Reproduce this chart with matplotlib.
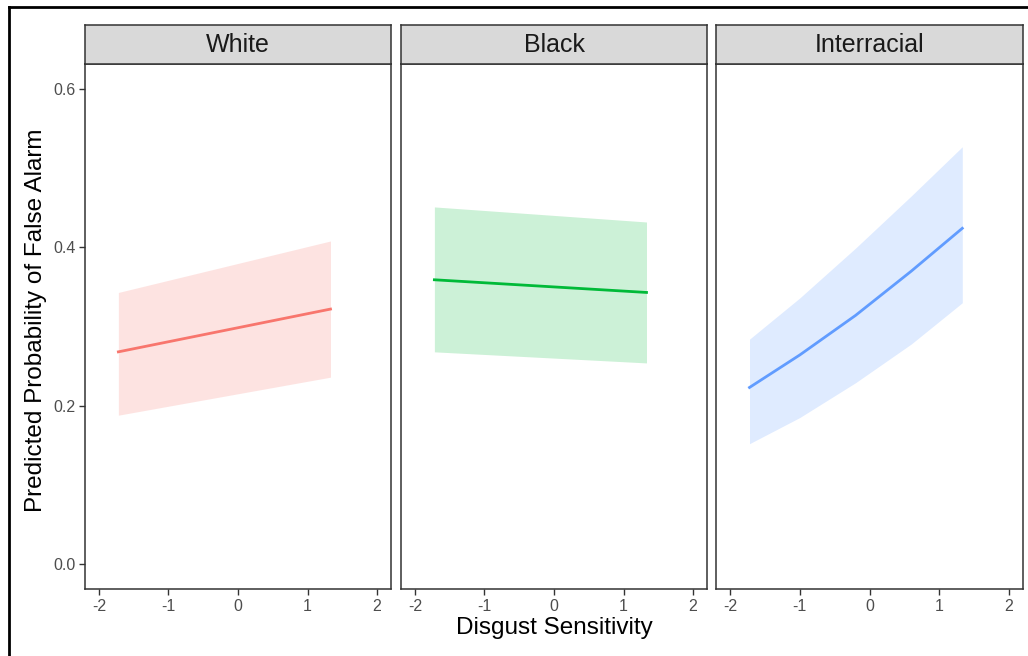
import matplotlib
matplotlib.use("Agg")
import matplotlib.pyplot as plt
from matplotlib.lines import Line2D

plt.rcParams['font.family'] = ['Liberation Sans', 'DejaVu Sans']

# ---- data ----
panels = ["White", "Black", "Interracial"]
colors = ["#F8766D", "#00BA38", "#619CFF"]

white_x = [-1.72, 1.33]
white_fit = [0.268, 0.322]
white_lo = [0.188, 0.236]
white_hi = [0.343, 0.408]

black_x = [-1.72, 1.33]
black_fit = [0.359, 0.343]
black_lo = [0.268, 0.254]
black_hi = [0.451, 0.432]

inter_x = [-1.72, -1.0, -0.2, 0.6, 1.33]
inter_fit = [0.223, 0.264, 0.314, 0.370, 0.424]
inter_lo = [0.152, 0.185, 0.229, 0.278, 0.330]
inter_hi = [0.284, 0.336, 0.399, 0.465, 0.527]

series = [
    (white_x, white_fit, white_lo, white_hi),
    (black_x, black_fit, black_lo, black_hi),
    (inter_x, inter_fit, inter_lo, inter_hi),
]

x_ticks = [-2, -1, 0, 1, 2]
x_ticklabels = ["-2", "-1", "0", "1", "2"]
y_ticks = [0.0, 0.2, 0.4, 0.6]
y_ticklabels = ["0.0", "0.2", "0.4", "0.6"]

W, H = 1028, 656
fig = plt.figure(figsize=(W / 100, H / 100), dpi=100)

lefts = [85, 401, 716]
widths = [306, 306, 307]
top_px, bot_px, strip_top = 64, 589, 25
dark = "#333333"

for i, (name, col, (xs, fit, lo, hi)) in enumerate(zip(panels, colors, series)):
    ax = fig.add_axes([lefts[i] / W, (H - bot_px) / H, widths[i] / W, (bot_px - top_px) / H])
    ax.fill_between(xs, lo, hi, color=col, alpha=0.2, linewidth=0)
    ax.plot(xs, fit, color=col, linewidth=2)
    ax.set_xlim(-2.2, 2.2)
    ax.set_ylim(-0.0315, 0.6315)
    ax.set_xticks(x_ticks)
    ax.set_xticklabels(x_ticklabels)
    ax.set_yticks(y_ticks)
    if i == 0:
        ax.set_yticklabels(y_ticklabels)
    else:
        ax.tick_params(axis='y', left=False, labelleft=False)
    ax.tick_params(axis='both', colors=dark, labelcolor="#4D4D4D", labelsize=11.5,
                   length=4, width=1, direction='out', pad=3)
    for s in ax.spines.values():
        s.set_color(dark)
        s.set_linewidth(1.1)
    # strip
    sax = fig.add_axes([lefts[i] / W, (H - top_px) / H, widths[i] / W, (top_px - strip_top) / H])
    sax.set_facecolor("#D9D9D9")
    sax.set_xticks([])
    sax.set_yticks([])
    for s in sax.spines.values():
        s.set_color(dark)
        s.set_linewidth(1.1)
    sax.text(0.5, 0.5, name, ha='center', va='center', fontsize=18, color="#1A1A1A",
             transform=sax.transAxes)

fig.text(554 / W, 1 - 628 / H, "Disgust Sensitivity", ha='center', va='center', fontsize=17.5)
fig.text(36 / W, 1 - 320 / H, "Predicted Probability of False Alarm", ha='center', va='center',
         rotation=90, fontsize=17.5)

# outer frame lines (top and left)
fig.add_artist(Line2D([9 / W, 1.0], [1 - 7 / H, 1 - 7 / H], transform=fig.transFigure,
                      color='black', linewidth=2))
fig.add_artist(Line2D([9 / W, 9 / W], [0, 1 - 7 / H], transform=fig.transFigure,
                      color='black', linewidth=2))

fig.savefig("out.png", dpi=100)
